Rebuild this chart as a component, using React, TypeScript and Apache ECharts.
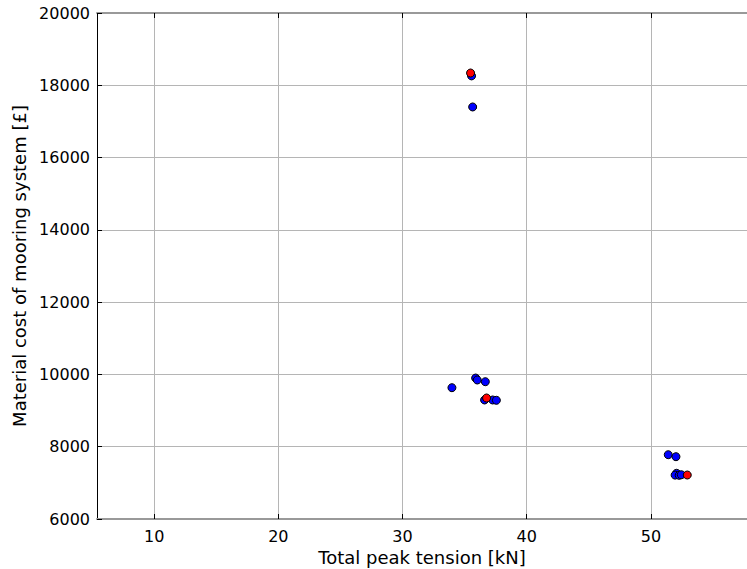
import React, { useEffect, useRef } from "react";
import * as echarts from "echarts";

const blueSeries: [number, number][] = [
  [35.56, 18260], [35.65, 17400],
  [33.98, 9633], [35.89, 9900], [36.02, 9846], [36.67, 9799],
  [36.61, 9293], [37.26, 9293], [37.56, 9284],
  [51.40, 7779], [52.02, 7724], [52.07, 7264], [51.95, 7215], [52.28, 7209], [52.45, 7225],
];
const redSeries: [number, number][] = [
  [35.48, 18340], [36.77, 9348], [52.93, 7217],
];
const xTicks = [10, 20, 30, 40, 50];
const xName = "Total peak tension [kN]";
const yName = "Material cost of mooring system [£]";

export default function App() {
  const ref = useRef<HTMLDivElement>(null);
  useEffect(() => {
    if (!ref.current) return;
    const chart = echarts.init(ref.current, undefined, { renderer: "svg" });
    const font = "DejaVu Sans";
    const xMin = 5.4, xMax = 57.74;
    chart.setOption({
      animation: false,
      backgroundColor: "#fff",
      grid: { left: 97, right: 0, top: 13, bottom: 50, containLabel: false, outerBoundsMode: "none" },
      xAxis: [
        {
          type: "value", min: xMin, max: xMax,
          position: "bottom",
          name: xName, nameLocation: "middle", nameGap: 26,
          nameTextStyle: { fontFamily: font, fontSize: 18, color: "#000" },
          axisLine: { show: true, onZero: false, lineStyle: { color: "#999", width: 2 } },
          axisTick: { show: true, inside: true, length: 5, customValues: xTicks, lineStyle: { color: "#000" } },
          axisLabel: { fontFamily: font, fontSize: 16, color: "#000", margin: 9, customValues: xTicks },
          splitLine: { show: true, lineStyle: { color: "#b5b5b5", width: 1 } },
        },
        {
          type: "value", min: xMin, max: xMax,
          position: "top",
          axisLine: { show: true, onZero: false, lineStyle: { color: "#999", width: 2 } },
          axisTick: { show: true, inside: true, length: 5, customValues: xTicks, lineStyle: { color: "#000" } },
          axisLabel: { show: false, customValues: xTicks },
          splitLine: { show: false },
        },
      ],
      yAxis: {
        type: "value", min: 6000, max: 20000, interval: 2000,
        name: yName, nameLocation: "middle", nameGap: 68, nameRotate: 90,
        nameTextStyle: { fontFamily: font, fontSize: 18, color: "#000" },
        axisLine: { show: true, onZero: false, lineStyle: { color: "#000", width: 1 } },
        axisTick: { show: true, inside: true, length: 5, lineStyle: { color: "#000" } },
        axisLabel: { fontFamily: font, fontSize: 16, color: "#000", margin: 7, formatter: (v: number) => String(v) },
        splitLine: { show: true, lineStyle: { color: "#b5b5b5", width: 1 } },
      },
      series: [
        {
          type: "scatter", data: blueSeries, symbolSize: 8,
          itemStyle: { color: "#0000ff", borderColor: "#000", borderWidth: 1, opacity: 1 },
        },
        {
          type: "scatter", data: redSeries, symbolSize: 8,
          itemStyle: { color: "#ff0000", borderColor: "#000", borderWidth: 1, opacity: 1 },
        },
      ],
    });
    return () => chart.dispose();
  }, []);
  return <div ref={ref} style={{ width: 747, height: 569, position: "absolute", left: 0, top: 0 }} />;
}
